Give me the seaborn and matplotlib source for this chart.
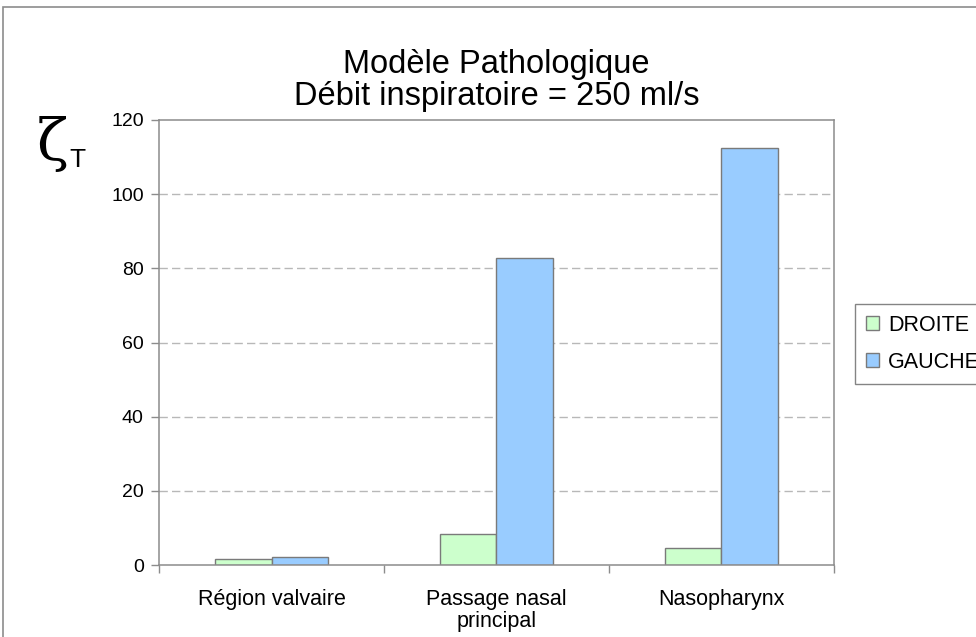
import matplotlib
matplotlib.use("Agg")
import matplotlib.pyplot as plt
import matplotlib.patches as mpatches
import pandas as pd
import seaborn as sns

# Data
regions = ["Région valvaire", "Passage nasal\nprincipal", "Nasopharynx"]
droite = [1.5, 8.4, 4.5]
gauche = [2.1, 82.7, 112.5]
series = ["DROITE", "GAUCHE"]
colors = {"DROITE": "#CCFFCC", "GAUCHE": "#99CCFF"}
yticks = [0, 20, 40, 60, 80, 100, 120]

df = pd.DataFrame({
    "region": regions * 2,
    "value": droite + gauche,
    "side": ["DROITE"] * len(regions) + ["GAUCHE"] * len(regions),
})

sns.set_theme(style="white")
plt.rcParams["font.family"] = ["Liberation Sans", "DejaVu Sans"]
plt.rcParams["text.color"] = "black"

W, H = 976, 637
fig = plt.figure(figsize=(W / 100, H / 100), dpi=100)
fig.patch.set_facecolor("white")

# outer chart frame
fig.patches.append(mpatches.Rectangle((3 / W, -0.05), 1.2, 1 - 7 / H + 0.05,
                                      transform=fig.transFigure, fill=False,
                                      edgecolor="#8c8c8c", linewidth=1.2))

left, right, top, bottom = 159, 834, 120, 565
ax = fig.add_axes([left / W, 1 - bottom / H, (right - left) / W, (bottom - top) / H])

sns.barplot(data=df, x="region", y="value", hue="side", order=regions,
            hue_order=series, palette=colors, width=0.5, gap=0,
            edgecolor="#7a7a7a", linewidth=1.0, saturation=1,
            legend=False, ax=ax)

ax.set_ylim(0, 120)
ax.set_xlim(-0.5, 2.5)
ax.set_yticks(yticks)
ax.set_xlabel("")
ax.set_ylabel("")
for y in yticks[1:-1]:
    ax.axhline(y, color="#b8b8b8", linewidth=1.0, linestyle=(0, (6, 3)), zorder=0)

for s in ax.spines.values():
    s.set_visible(True)
    s.set_color("#8c8c8c")
    s.set_linewidth(1.1)

ax.tick_params(axis="y", direction="out", length=6, width=1, color="#8c8c8c",
               labelsize=14, pad=5, left=True, labelcolor="black")
ax.set_xticks([0, 1, 2])
ax.set_xticklabels(regions)
ax.tick_params(axis="x", which="major", length=0, labelsize=15.5, pad=17, labelcolor="black")
ax.set_xticks([-0.5, 0.5, 1.5, 2.5], minor=True)
ax.tick_params(axis="x", which="minor", direction="out", length=6, width=1,
               color="#8c8c8c", bottom=True)
for t in ax.get_xticklabels():
    t.set_linespacing(1.1)

# title
cx = (left + right) / 2 / W
fig.text(cx, 1 - 64 / H, "Modèle Pathologique", ha="center", va="center",
         fontsize=23.5, color="black")
fig.text(cx, 1 - 96 / H, "Débit inspiratoire = 250 ml/s", ha="center", va="center",
         fontsize=23.5, color="black")

# axis symbol
fig.text(37 / W, 1 - 144 / H, "ζ", ha="left", va="center", fontsize=42,
         family=["DejaVu Serif", "DejaVu Sans"], color="black")
fig.text(69 / W, 1 - 160 / H, "T", ha="left", va="center", fontsize=19, color="black")

# legend
handles = [mpatches.Patch(facecolor=colors[s], edgecolor="#7a7a7a", linewidth=1.0)
           for s in series]
leg = ax.legend(handles, series, loc="upper left",
                bbox_to_anchor=(855 / W, 1 - 304 / H), bbox_transform=fig.transFigure,
                frameon=True, fancybox=False, edgecolor="#666666", fontsize=15.5,
                handlelength=0.6, handleheight=0.6, handletextpad=0.45,
                labelspacing=0.75, borderpad=0.5, borderaxespad=0)
leg.get_frame().set_linewidth(1.0)

fig.savefig("out.png", dpi=100, facecolor="white")
